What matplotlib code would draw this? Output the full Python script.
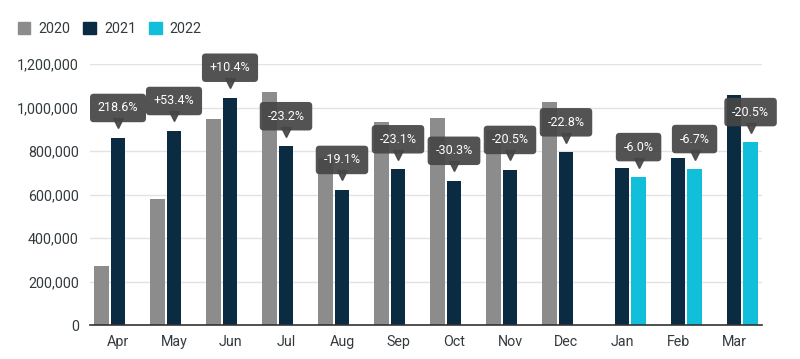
import numpy as np
import matplotlib
matplotlib.use('Agg')
import matplotlib.pyplot as plt
import matplotlib.patches as mpatches
import matplotlib.transforms as mtransforms
from matplotlib.ticker import FuncFormatter

plt.rcParams['font.family'] = ['Roboto', 'DejaVu Sans']

# Data
months = ['Apr', 'May', 'Jun', 'Jul', 'Aug', 'Sep', 'Oct', 'Nov', 'Dec', 'Jan', 'Feb', 'Mar']
v2020 = [270000, 579000, 947000, 1070000, 767000, 932000, 950000, 897000, 1027000,
         np.nan, np.nan, np.nan]
v2021 = [860000, 892000, 1045000, 822000, 621000, 716000, 663000, 713000, 794000,
         723000, 769000, 1059000]
v2022 = [np.nan] * 9 + [680000, 717000, 841000]
changes = ['218.6%', '+53.4%', '+10.4%', '-23.2%', '-19.1%', '-23.1%', '-30.3%',
           '-20.5%', '-22.8%', '-6.0%', '-6.7%', '-20.5%']

colors = {'2020': '#8c8c8c', '2021': '#0a2b42', '2022': '#12bfda'}
label_bg = '#464646'
text_col = '#333a3e'

fig = plt.figure(figsize=(8, 3.59), dpi=100)
ax = fig.add_axes([0.1125, 0.0947, 0.84, 0.727])

x = np.arange(len(months))
slot = 0.296
width = 0.267

ax.bar(x - slot, v2020, width, color=colors['2020'], zorder=2)
ax.bar(x, v2021, width, color=colors['2021'], zorder=2)
ax.bar(x + slot, v2022, width, color=colors['2022'], zorder=2)

# Change callouts, pointing at the latest year's bar
tri_trans = mtransforms.offset_copy(ax.transData, fig=fig, x=0, y=14.5, units='dots')
for i, lab in enumerate(changes):
    if not np.isnan(v2022[i]):
        xi, top = x[i] + slot, v2022[i]
    else:
        xi, top = x[i], v2021[i]
    ax.plot(xi, top, marker='v', markersize=6.5, color=label_bg, alpha=0.93,
            transform=tri_trans, clip_on=False, zorder=4)
    ax.annotate(lab, xy=(xi, top), xytext=(0, 30), textcoords='offset pixels',
                ha='center', va='center', fontsize=9, color='white',
                bbox=dict(boxstyle='round,pad=0.62,rounding_size=0.3',
                          fc=label_bg, ec='none', alpha=0.93),
                annotation_clip=False, zorder=5)

ax.set_xlim(-0.5, 11.5)
ax.set_ylim(0, 1200000)
ax.set_yticks(np.arange(0, 1200001, 200000))
ax.yaxis.set_major_formatter(FuncFormatter(lambda v, p: f'{int(v):,}'))
ax.set_xticks(x)
ax.set_xticklabels(months)

ax.tick_params(axis='y', length=0, pad=8, labelsize=10.3, labelcolor=text_col)
ax.tick_params(axis='x', length=0, pad=7, labelsize=10.3, labelcolor=text_col)

ax.grid(axis='y', color='#e3e3e3', linewidth=1, zorder=0)
ax.set_axisbelow(True)
for s in ['top', 'right', 'left']:
    ax.spines[s].set_visible(False)
ax.spines['bottom'].set_color('#333333')
ax.spines['bottom'].set_linewidth(1.2)
ax.spines['bottom'].set_zorder(3)

handles = [mpatches.Patch(color=colors[k], label=k) for k in ['2020', '2021', '2022']]
fig.legend(handles=handles, loc='center left', bbox_to_anchor=(0.022, 0.919),
           ncol=3, frameon=False, fontsize=10.3, handlelength=0.9, handleheight=0.9,
           handletextpad=0.55, columnspacing=0.9, borderaxespad=0, borderpad=0,
           labelcolor=text_col)

fig.savefig('out.png', dpi=100)
